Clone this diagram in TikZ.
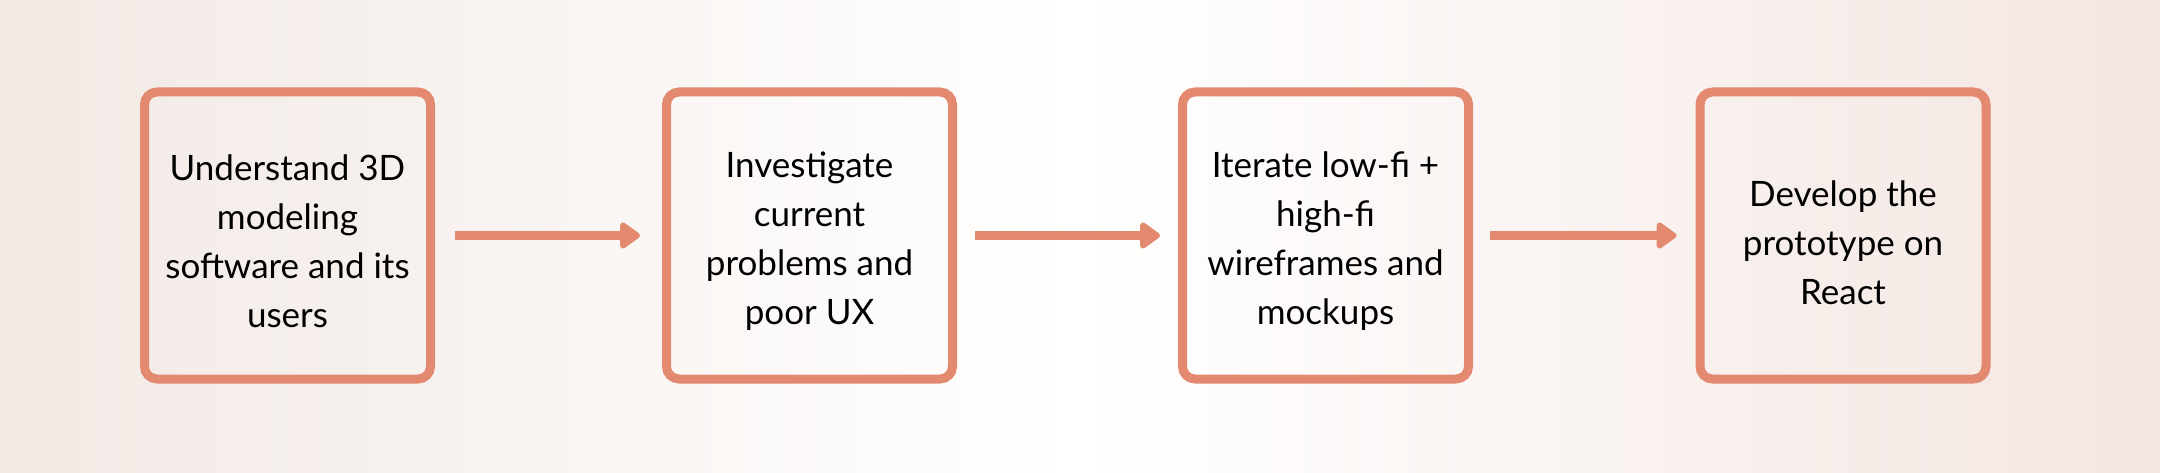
\documentclass[tikz,border=0pt]{standalone}
\usepackage{fontspec}
\setmainfont{Lato}
\usetikzlibrary{arrows.meta}
\definecolor{salmon}{RGB}{226,137,112}
\definecolor{bgedgeL}{RGB}{242,233,228}
\definecolor{bgedgeR}{RGB}{243,230,225}
\begin{document}
\begin{tikzpicture}[x=1pt,y=1pt,
  stepbox/.style={draw=salmon, line width=9pt, rounded corners=12.5pt,
    minimum width=286pt, minimum height=287pt, inner sep=0pt},
  steptext/.style={align=center, inner sep=0pt,
    font=\fontsize{35}{49}\selectfont, text=black},
  flow/.style={draw=salmon, line width=8.3pt,
    -{Triangle[length=22pt, width=30pt, round]}}]
\useasboundingbox (0,0) rectangle (2160,472);
\fill[left color=bgedgeL, right color=bgedgeR, middle color=white] (0,0) rectangle (2160,472);
\node[stepbox] (b1) at (287.5,236.5) {};
\node[stepbox] (b2) at (809.5,236.5) {};
\node[stepbox] (b3) at (1325.5,236.5) {};
\node[stepbox] (b4) at (1843,236.5) {};
\node[steptext] (t1) at ([yshift=-6pt]b1.center) {Understand 3D\\modeling\\software and its\\users};
\node[steptext] (t2) at ([yshift=-6pt]b2.center) {Investigate\\current\\problems and\\poor UX};
\node[steptext] (t3) at ([yshift=-6pt]b3.center) {Iterate low-fi +\\high-fi\\wireframes and\\mockups};
\node[steptext] (t4) at ([yshift=-7pt]b4.center) {Develop the\\prototype on\\React};
\draw[flow] ([xshift=20pt]b1.east) -- ([xshift=-22pt]b2.west);
\draw[flow] ([xshift=18pt]b2.east) -- ([xshift=-18pt]b3.west);
\draw[flow] ([xshift=17pt]b3.east) -- ([xshift=-19pt]b4.west);
\end{tikzpicture}
\end{document}
